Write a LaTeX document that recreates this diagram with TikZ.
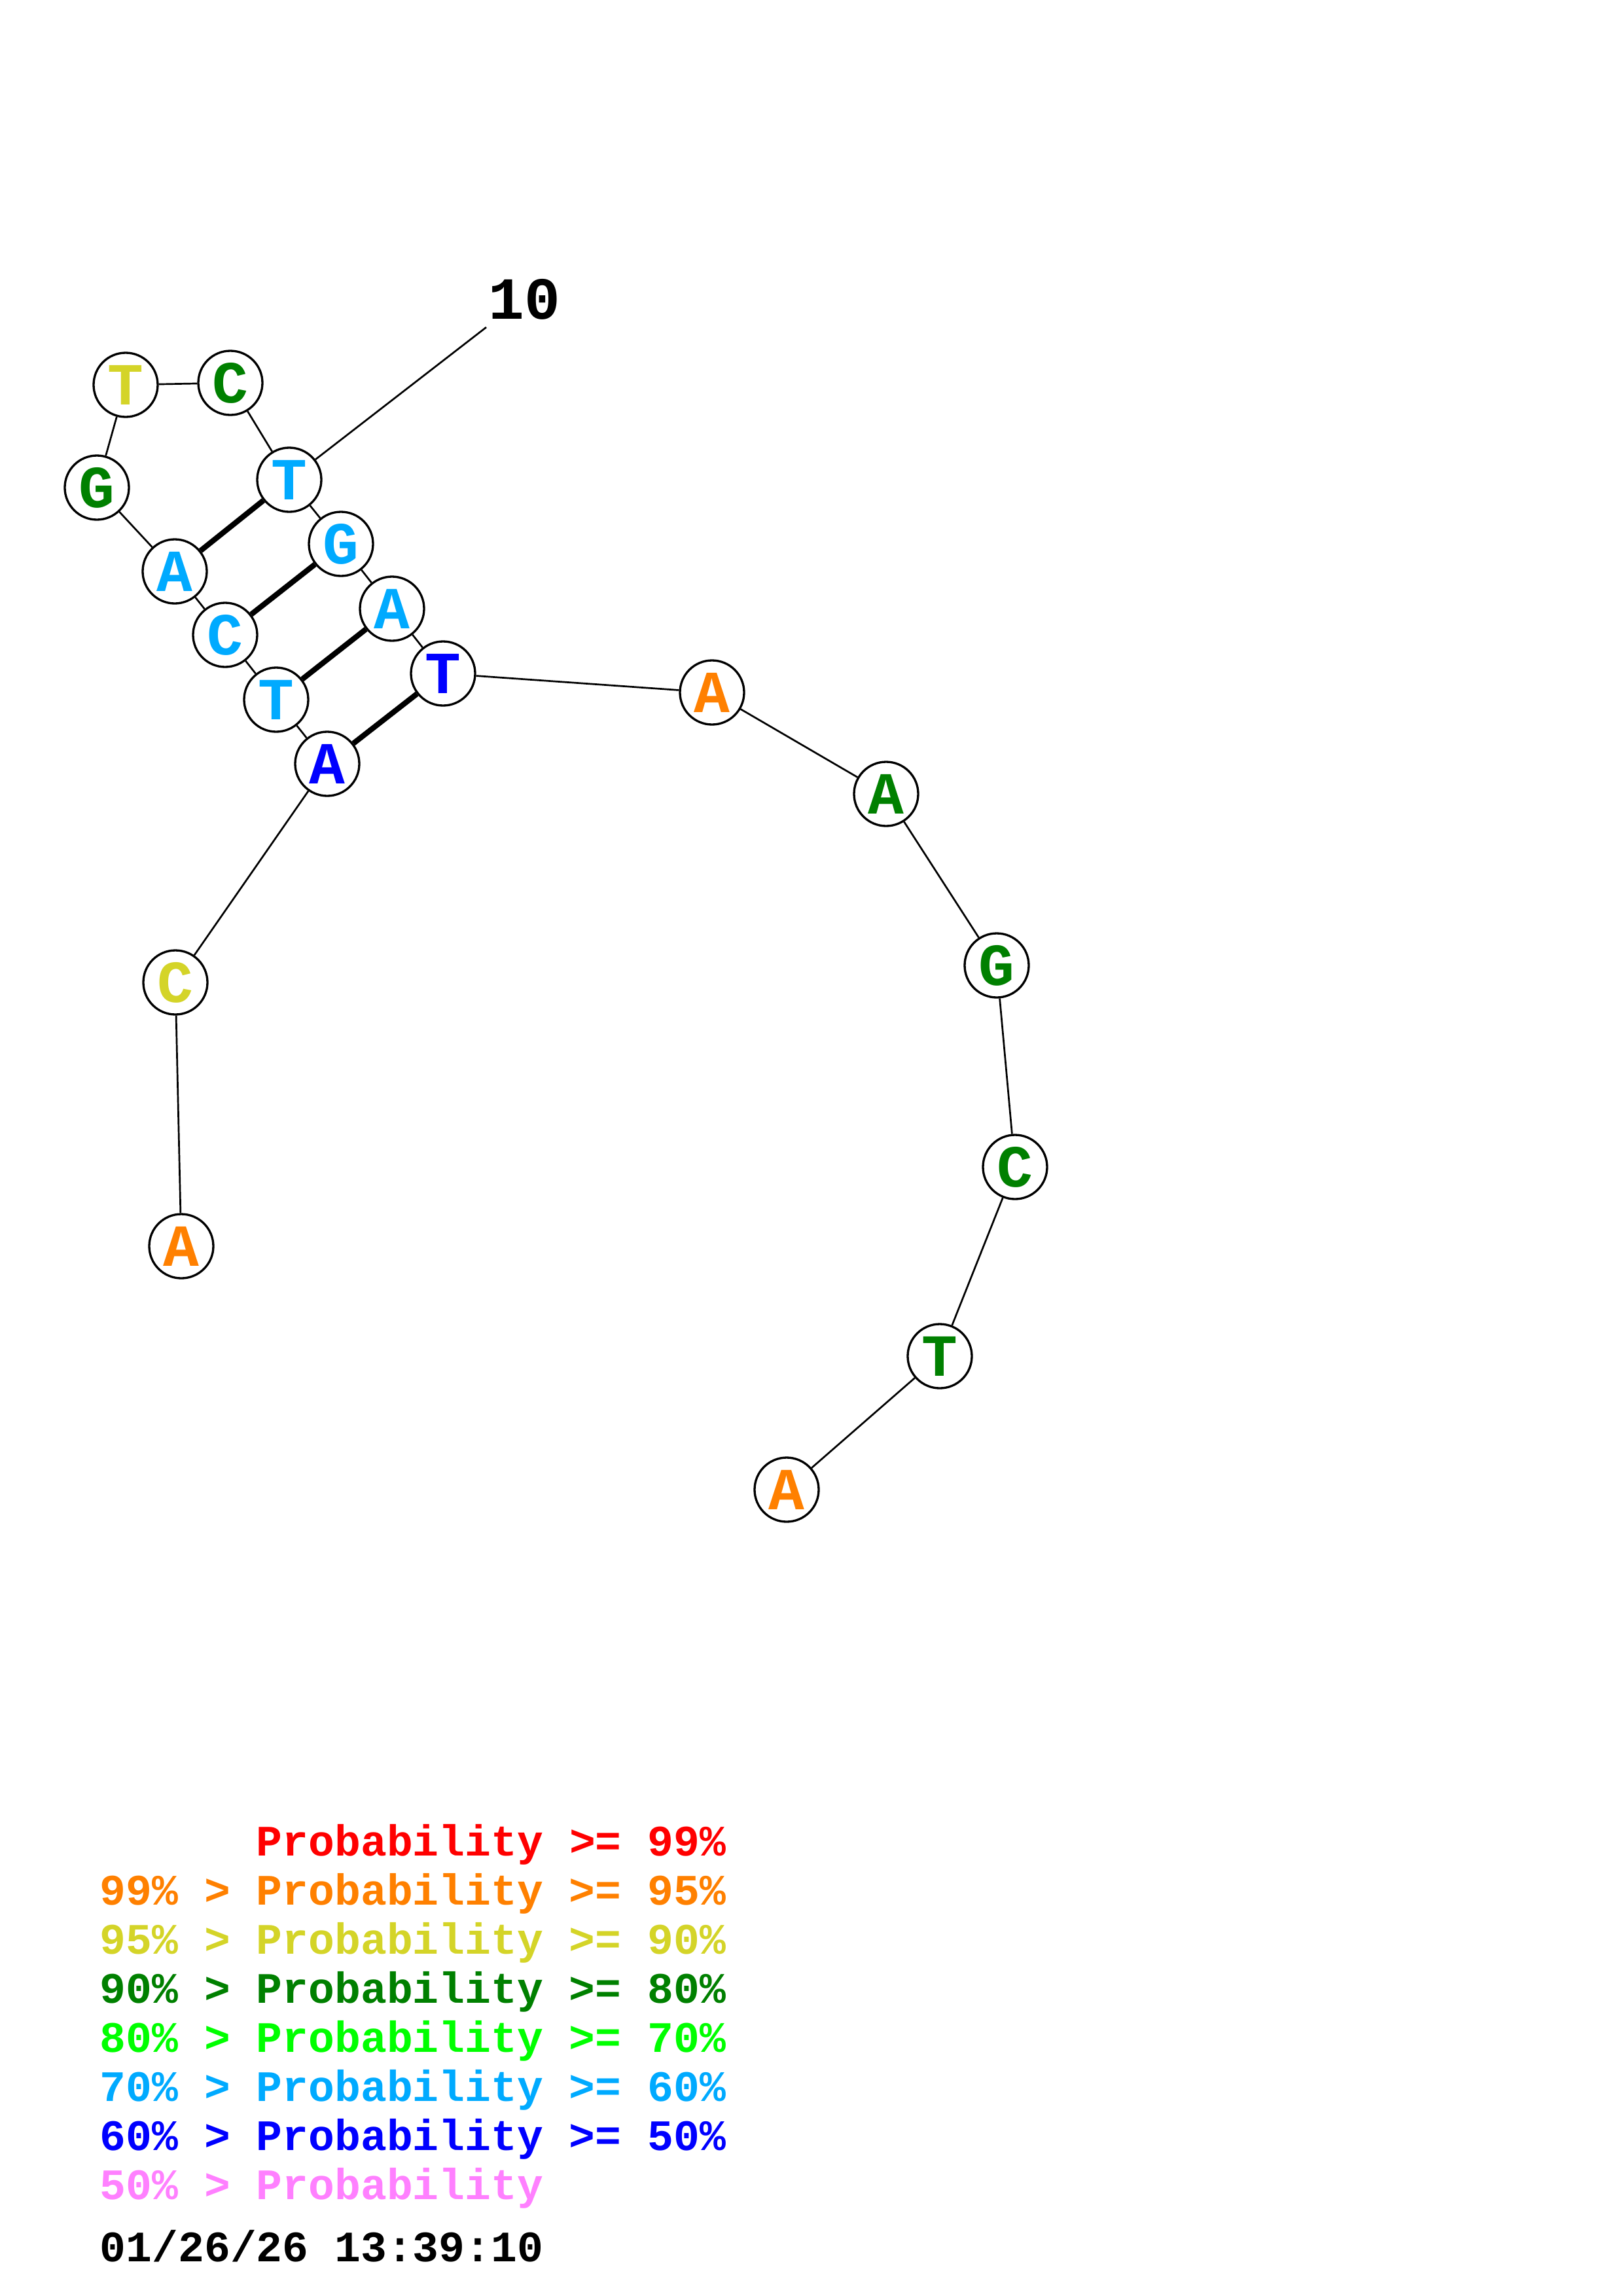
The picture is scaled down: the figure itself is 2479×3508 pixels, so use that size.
\documentclass[tikz,border=0pt]{standalone}
\usepackage{fontspec}
\setmainfont{Liberation Mono}

\definecolor{pred}{RGB}{255,0,0}
\definecolor{porange}{RGB}{255,128,0}
\definecolor{pyellow}{RGB}{212,212,40}
\definecolor{pdkgreen}{RGB}{0,128,0}
\definecolor{pgreen}{RGB}{0,255,0}
\definecolor{pcyan}{RGB}{0,170,255}
\definecolor{pblue}{RGB}{0,0,255}
\definecolor{ppink}{RGB}{255,128,255}

\tikzset{
  base/.style={circle, draw, line width=0.8pt, fill=white, minimum size=0.83cm,
    inner sep=0pt, font=\fontsize{22}{22}\selectfont\bfseries},
  bond/.style={line width=0.65pt},
  pair/.style={line width=2pt},
  legend/.style={anchor=base west, inner sep=0pt, font=\fontsize{16}{16}\selectfont\bfseries}
}

\begin{document}
\begin{tikzpicture}[x=0.008471cm, y=-0.008471cm]
        \useasboundingbox (0,0) rectangle (2479,3508);

        % bases
        \node[base, text=porange] (n1) at (277,1904) {A};
        \node[base, text=pyellow] (n2) at (268,1501) {C};
        \node[base, text=pblue] (n3) at (500,1167) {A};
        \node[base, text=pcyan] (n4) at (422,1069) {T};
        \node[base, text=pcyan] (n5) at (344,970) {C};
        \node[base, text=pcyan] (n6) at (267,873) {A};
        \node[base, text=pdkgreen] (n7) at (148,745) {G};
        \node[base, text=pyellow] (n8) at (192,588) {T};
        \node[base, text=pdkgreen] (n9) at (352,585) {C};
        \node[base, text=pcyan] (n10) at (442,733) {T};
        \node[base, text=pcyan] (n11) at (521,831) {G};
        \node[base, text=pcyan] (n12) at (599,930) {A};
        \node[base, text=pblue] (n13) at (677,1029) {T};
        \node[base, text=porange] (n14) at (1088,1058) {A};
        \node[base, text=pdkgreen] (n15) at (1354,1213) {A};
        \node[base, text=pdkgreen] (n16) at (1523,1475) {G};
        \node[base, text=pdkgreen] (n17) at (1551,1783) {C};
        \node[base, text=pdkgreen] (n18) at (1436,2072) {T};
        \node[base, text=porange] (n19) at (1202,2276) {A};

        % backbone
        \foreach \i [evaluate=\i as \j using int(\i+1)] in {1,...,18}
          \draw[bond] (n\i) -- (n\j);

        % pairs
        \draw[pair] (n6) -- (n10);
        \draw[pair] (n5) -- (n11);
        \draw[pair] (n4) -- (n12);
        \draw[pair] (n3) -- (n13);

        % position mark
        \coordinate (tick10) at (743,500);
        \draw[bond] (n10) -- (tick10);
        \node[font=\fontsize{22}{22}\selectfont\bfseries] (lab10) at (801,457) {10};

        % legend
        \node[legend, text=pred] (leg1) at (152,2835) {\phantom{99\% > }Probability >= 99\%};
        \node[legend, text=porange] (leg2) at (152,2910) {99\% > Probability >= 95\%};
        \node[legend, text=pyellow] (leg3) at (152,2985) {95\% > Probability >= 90\%};
        \node[legend, text=pdkgreen] (leg4) at (152,3060) {90\% > Probability >= 80\%};
        \node[legend, text=pgreen] (leg5) at (152,3135) {80\% > Probability >= 70\%};
        \node[legend, text=pcyan] (leg6) at (152,3210) {70\% > Probability >= 60\%};
        \node[legend, text=pblue] (leg7) at (152,3285) {60\% > Probability >= 50\%};
        \node[legend, text=ppink] (leg8) at (152,3360) {50\% > Probability};
        \node[legend] (date) at (152,3455) {01/26/26 13:39:10};
\end{tikzpicture}
\end{document}
